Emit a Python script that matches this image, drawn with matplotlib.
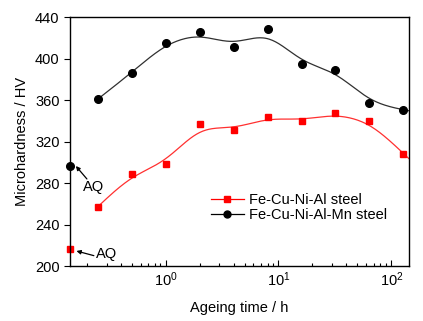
import numpy as np
import matplotlib
matplotlib.use('Agg')
import matplotlib.pyplot as plt

plt.rcParams['font.family'] = ['Liberation Sans', 'DejaVu Sans']
plt.rcParams['mathtext.default'] = 'regular'
plt.rcParams['font.size'] = 10.5

# ageing time (h) and microhardness (HV)
t = [0.25, 0.5, 1, 2, 4, 8, 16, 32, 64, 128]
hv_al = [257, 288.5, 298.5, 337, 331, 344, 340, 347.5, 340, 308.5]
hv_mn = [361, 386.5, 415.5, 425.5, 411, 429, 394.5, 389.5, 357, 351]
aq_al = 216.5
aq_mn = 296.5
t_aq = 0.142

xmin, xmax = 0.142, 142.6


def smooth(x, y, xs, h=0.19):
    # local linear regression in log10(t)
    u = np.log10(x)
    us = np.log10(xs)
    y = np.asarray(y, float)
    out = []
    for v in us:
        w = np.exp(-0.5 * ((u - v) / h) ** 2)
        A = np.vstack([np.ones_like(u), u - v]).T
        W = np.diag(w)
        beta = np.linalg.solve(A.T @ W @ A, A.T @ W @ y)
        out.append(beta[0])
    return np.array(out)


fig = plt.figure(figsize=(4.23, 3.21), dpi=100)
ax = fig.add_axes([0.1655, 0.1713, 0.8007, 0.7748])

ts = np.logspace(np.log10(t[0]), np.log10(xmax), 300)
ax.plot(ts, smooth(t, hv_al, ts), color='#ff3030', lw=0.9)
ax.plot(ts, smooth(t, hv_mn, ts), color='#303030', lw=0.9)

ax.plot(t, hv_al, 's', color='#ff0000', ms=5)
ax.plot(t, hv_mn, 'o', color='black', ms=5.5)
ax.plot([t_aq], [aq_al], 's', color='#ff0000', ms=5, clip_on=False)
ax.plot([t_aq], [aq_mn], 'o', color='black', ms=5.5, clip_on=False)

# legend handles
ax.plot([], [], '-s', color='#ff0000', ms=5, lw=0.9, label='Fe-Cu-Ni-Al steel')
ax.plot([], [], '-o', color='black', ms=5, lw=0.9, label='Fe-Cu-Ni-Al-Mn steel')
ax.legend(loc='upper left', bbox_to_anchor=(0.385, 0.335), frameon=False,
          handlelength=2.3, handletextpad=0.3, labelspacing=0.1,
          borderpad=0.2, fontsize=10.5)

arrow = dict(arrowstyle='-|>', color='black', lw=0.9, mutation_scale=6,
             shrinkA=0, shrinkB=0)
ax.annotate('', xy=(0.160, 296.5), xytext=(0.2005, 284), arrowprops=arrow,
            annotation_clip=False)
ax.text(0.185, 276.3, 'AQ', ha='left', va='center')
ax.annotate('', xy=(0.162, 214.5), xytext=(0.231, 210), arrowprops=arrow,
            annotation_clip=False)
ax.text(0.241, 211.6, 'AQ', ha='left', va='center')

ax.set_xscale('log')
ax.set_xlim(xmin, xmax)
ax.set_ylim(200, 440)
ax.set_yticks(np.arange(200, 441, 40))
ax.tick_params(axis='x', which='major', direction='in', length=4, width=0.8)
ax.tick_params(axis='x', which='minor', direction='in', length=2, width=0.8)
ax.tick_params(axis='y', direction='out', length=4, width=0.8)
for s in ax.spines.values():
    s.set_linewidth(1.0)

ax.set_xlabel('Ageing time / h', labelpad=8)
ax.set_ylabel('Microhardness / HV', labelpad=4)

fig.savefig('out.png', dpi=100)
